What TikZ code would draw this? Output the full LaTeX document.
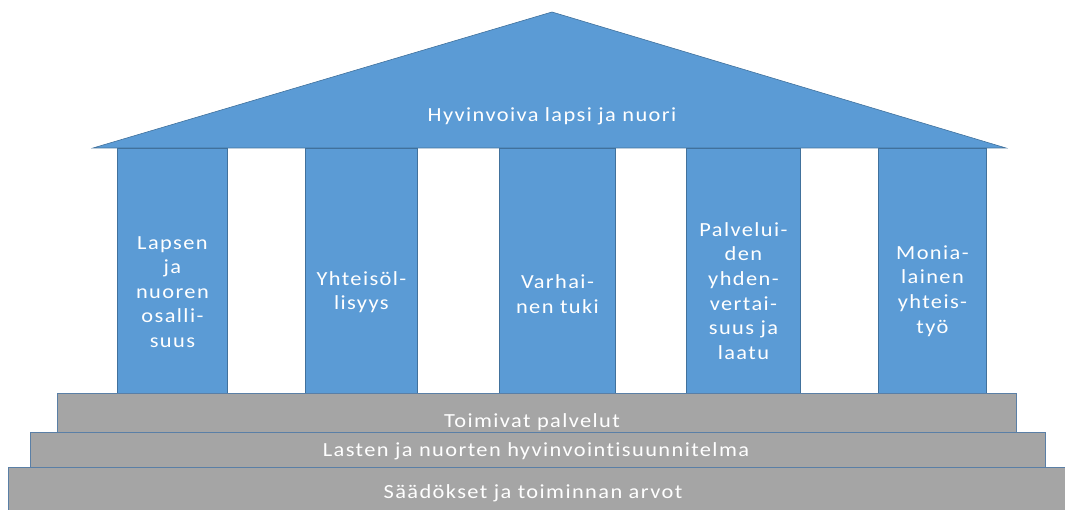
\documentclass[tikz,border=0pt]{standalone}
\usepackage{fontspec}
\setmainfont{Carlito}[FakeStretch=1.12,LetterSpace=7,Ligatures=NoCommon]
\definecolor{pblue}{HTML}{5B9BD5}
\definecolor{pedge}{HTML}{41719C}
\definecolor{sgray}{HTML}{A5A5A5}
\definecolor{sedge}{HTML}{5A7FA6}
\begin{document}
\begin{tikzpicture}[x=1pt,y=-1pt,
  pillar/.style={draw=pedge,fill=pblue,line width=0.9pt,minimum width=110pt,minimum height=245pt,inner sep=0pt,anchor=north west},
  ptext/.style={text=white,align=center,font=\fontsize{20}{24.6}\selectfont,inner sep=0pt},
  stepbox/.style={draw=sedge,fill=sgray,line width=0.9pt,inner sep=0pt,anchor=north west},
  stext/.style={text=white,font=\fontsize{20}{24}\selectfont,inner sep=0pt}]
\useasboundingbox (0,0) rectangle (1065,510);
% pillars
\node[pillar,minimum width=110pt] (p1) at (117,148) {};
\node[pillar,minimum width=112pt] (p2) at (305,148) {};
\node[pillar,minimum width=116pt] (p3) at (499,148) {};
\node[pillar,minimum width=114pt] (p4) at (686,148) {};
\node[pillar,minimum width=108pt] (p5) at (878,148) {};
% roof
\coordinate (rl) at (93,148);
\coordinate (rt) at (552,12);
\coordinate (rr) at (1006,148);
\filldraw[fill=pblue,draw=pedge,line width=0.6pt] (rl) -- (rt) -- (rr) -- cycle;
\node[ptext] (roof) at (552,116) {Hyvinvoiva lapsi ja nuori};
% pillar texts
\node[ptext] (t1) at (p1.center |- 0,292) {Lapsen\\ja\\nuoren\\osalli-\\suus};
\node[ptext] (t2) at (p2.center |- 0,292) {Yhteisöl-\\lisyys};
\node[ptext] (t3) at (p3.center |- 0,294) {Varhai-\\nen tuki};
\node[ptext] (t4) at (p4.center |- 0,291) {Palvelui-\\den\\yhden-\\vertai-\\suus ja\\laatu};
\node[ptext] (t5) at (p5.center |- 0,291) {Monia-\\lainen\\yhteis-\\työ};
% steps
\node[stepbox,minimum width=1062pt,minimum height=50pt] (s3) at (8,467) {};
\node[stepbox,minimum width=1015pt,minimum height=35pt] (s2) at (30,432) {};
\node[stepbox,minimum width=959pt,minimum height=39pt] (s1) at (57,393) {};
\node[stext] (st1) at (532,422) {Toimivat palvelut};
\node[stext] (st2) at (536,451) {Lasten ja nuorten hyvinvointisuunnitelma};
\node[stext] (st3) at (533,493) {Säädökset ja toiminnan arvot};
\end{tikzpicture}
\end{document}
